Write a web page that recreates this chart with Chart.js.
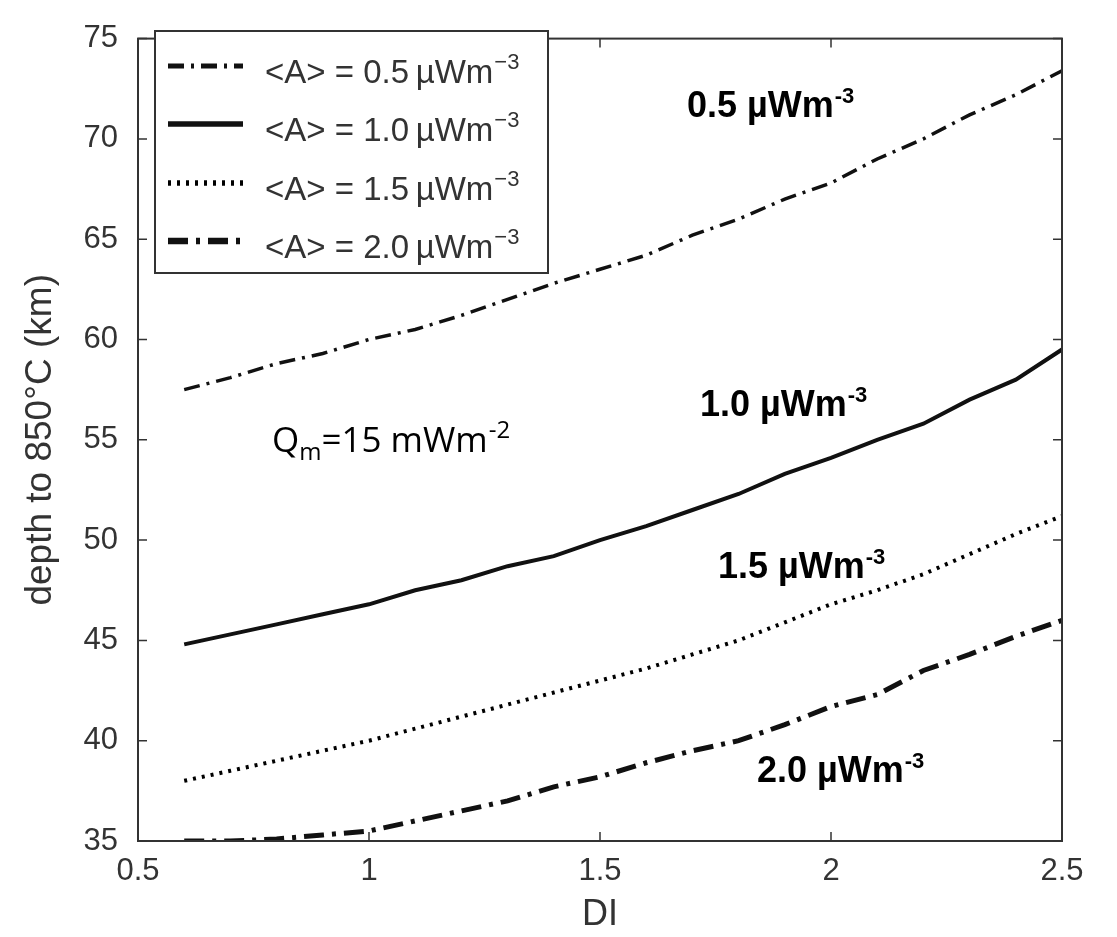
<!DOCTYPE html>
<html>
<head>
<meta charset="utf-8">
<script src="https://cdn.jsdelivr.net/npm/chart.js@4.4.0/dist/chart.umd.min.js"></script>
<style>
  html, body { margin: 0; padding: 0; background: #fff; }
  #wrap { width: 1117px; height: 937px; }
</style>
</head>
<body>
<div id="wrap"><canvas id="depthChart" width="1117" height="937"></canvas></div>
<script>
// DI values (x axis)
var diValues = [0.6, 0.7, 0.8, 0.9, 1.0, 1.1, 1.2, 1.3, 1.4, 1.5, 1.6, 1.7, 1.8, 1.9, 2.0, 2.1, 2.2, 2.3, 2.4, 2.5];
// depth to 850 C (km) for each heat production <A>
var depthA05 = [57.5, 58.1, 58.8, 59.3, 60.0, 60.5, 61.2, 62.0, 62.8, 63.5, 64.2, 65.2, 66.0, 67.0, 67.8, 69.0, 70.0, 71.2, 72.2, 73.4];
var depthA10 = [44.8, 45.3, 45.8, 46.3, 46.8, 47.5, 48.0, 48.7, 49.2, 50.0, 50.7, 51.5, 52.3, 53.3, 54.1, 55.0, 55.8, 57.0, 58.0, 59.5];
var depthA15 = [38.0, 38.5, 39.0, 39.5, 40.0, 40.6, 41.2, 41.8, 42.4, 43.0, 43.6, 44.3, 45.0, 45.9, 46.8, 47.5, 48.3, 49.3, 50.3, 51.2];
var depthA20 = [35.0, 35.0, 35.1, 35.3, 35.5, 36.0, 36.5, 37.0, 37.7, 38.2, 38.9, 39.5, 40.0, 40.8, 41.7, 42.3, 43.5, 44.3, 45.2, 46.0];
var seriesLabels = ['0.5', '1.0', '1.5', '2.0'];
var xTicks = [0.5, 1, 1.5, 2, 2.5];
var yTicks = [35, 40, 45, 50, 55, 60, 65, 70, 75];

var AREA_LEFT = 138, AREA_RIGHT = 1062, AREA_TOP = 18, AREA_BOTTOM = 841;
var SANS = '"Liberation Sans", Arial, sans-serif';

function toPoints(ys) {
    return diValues.map(function (x, i) { return { x: x, y: ys[i] }; });
}

// text with a raised exponent, e.g. "µWm" + "-3"
function drawSup(ctx, x, y, base, sup, font, supFont, rise) {
    ctx.font = font;
    ctx.fillText(base, x, y);
    var w = ctx.measureText(base).width;
    ctx.font = supFont;
    ctx.fillText(sup, x + w + 1, y - rise);
}

var framePlugin = {
    id: 'frame',
    afterDatasetsDraw: function (chart) {
        var ctx = chart.ctx;
        var a = chart.chartArea;
        var xs = chart.scales.x, ys = chart.scales.y;
        ctx.save();
        ctx.strokeStyle = '#333';
        ctx.lineWidth = 2;
        ctx.strokeRect(a.left, a.top, a.right - a.left, a.bottom - a.top);
        // inward ticks on all four sides
        ctx.lineWidth = 1.5;
        ctx.beginPath();
        xTicks.forEach(function (v) {
            var px = xs.getPixelForValue(v);
            ctx.moveTo(px, a.bottom); ctx.lineTo(px, a.bottom - 9);
            ctx.moveTo(px, a.top); ctx.lineTo(px, a.top + 9);
        });
        yTicks.forEach(function (v) {
            var py = ys.getPixelForValue(v);
            ctx.moveTo(a.left, py); ctx.lineTo(a.left + 9, py);
            ctx.moveTo(a.right, py); ctx.lineTo(a.right - 9, py);
        });
        ctx.stroke();

        // legend box
        var lx = 155, ly = 31, lw = 393, lh = 242;
        ctx.fillStyle = '#fff';
        ctx.fillRect(lx, ly, lw, lh);
        ctx.strokeStyle = '#333';
        ctx.lineWidth = 2;
        ctx.strokeRect(lx, ly, lw, lh);
        var rows = [66, 124, 183, 241];
        chart.data.datasets.forEach(function (ds, i) {
            var ry = rows[i];
            ctx.save();
            ctx.strokeStyle = ds.borderColor;
            ctx.lineWidth = ds.borderWidth + 1.5;
            ctx.setLineDash(ds.borderDash || []);
            ctx.beginPath();
            ctx.moveTo(168, ry);
            ctx.lineTo(243, ry);
            ctx.stroke();
            ctx.restore();
            ctx.fillStyle = '#333';
            ctx.textBaseline = 'alphabetic';
            drawSup(ctx, 265, ry + 17, '<A> = ' + seriesLabels[i] + '\u2009\u00b5Wm', '\u22123',
                '33px ' + SANS, '22px ' + SANS, 14);
        });

        // curve labels
        ctx.fillStyle = '#000';
        var bold = 'bold 36px ' + SANS;
        var boldSup = 'bold 22px ' + SANS;
        var labelPos = [[687, 117], [700, 416], [718, 578], [757, 782]];
        labelPos.forEach(function (p, i) {
            drawSup(ctx, p[0], p[1], seriesLabels[i] + ' \u00b5Wm', '-3', bold, boldSup, 14);
        });

        // Qm annotation
        var qx = 272, qy = 452;
        ctx.font = '35px "Open Sans", sans-serif';
        ctx.fillText('Q', qx, qy);
        qx += ctx.measureText('Q').width;
        ctx.font = '24px "Open Sans", sans-serif';
        ctx.fillText('m', qx, qy + 8);
        qx += ctx.measureText('m').width;
        drawSup(ctx, qx, qy, '=15 mWm', '-2', '35px "Open Sans", sans-serif', '24px "Open Sans", sans-serif', 14);
        ctx.restore();
    }
};

var ctx = document.getElementById('depthChart').getContext('2d');
new Chart(ctx, {
    type: 'line',
    data: {
        datasets: [
            {
                label: '<A> = 0.5 µWm-3',
                data: toPoints(depthA05),
                borderColor: '#111',
                borderWidth: 3.5,
                borderDash: [16, 7, 3, 7],
                pointRadius: 0
            },
            {
                label: '<A> = 1.0 µWm-3',
                data: toPoints(depthA10),
                borderColor: '#111',
                borderWidth: 4,
                pointRadius: 0
            },
            {
                label: '<A> = 1.5 µWm-3',
                data: toPoints(depthA15),
                borderColor: '#000',
                borderWidth: 4,
                borderDash: [3, 6],
                pointRadius: 0
            },
            {
                label: '<A> = 2.0 µWm-3',
                data: toPoints(depthA20),
                borderColor: '#111',
                borderWidth: 5,
                borderDash: [20, 8, 4, 8],
                pointRadius: 0
            }
        ]
    },
    options: {
        responsive: false,
        animation: false,
        layout: {
            padding: { left: 0, top: AREA_TOP, right: 1117 - AREA_RIGHT, bottom: 0 }
        },
        plugins: {
            legend: { display: false },
            tooltip: { enabled: false }
        },
        scales: {
            x: {
                type: 'linear',
                min: 0.5,
                max: 2.5,
                afterFit: function (scale) { scale.height = 937 - AREA_BOTTOM; },
                afterBuildTicks: function (scale) {
                    scale.ticks = xTicks.map(function (v) { return { value: v }; });
                },
                grid: { display: false, drawTicks: false },
                border: { display: false },
                ticks: {
                    color: '#333',
                    padding: 12,
                    maxRotation: 0,
                    font: { family: SANS, size: 31 },
                    callback: function (v) { return String(v); }
                },
                title: {
                    display: true,
                    text: 'DI',
                    color: '#333',
                    padding: { top: 0, bottom: 0 },
                    font: { family: SANS, size: 36 }
                }
            },
            y: {
                type: 'linear',
                min: 35,
                max: 75,
                afterFit: function (scale) { scale.width = AREA_LEFT; },
                afterBuildTicks: function (scale) {
                    scale.ticks = yTicks.map(function (v) { return { value: v }; });
                },
                grid: { display: false, drawTicks: false },
                border: { display: false },
                ticks: {
                    color: '#333',
                    padding: 20,
                    font: { family: SANS, size: 31 }
                },
                title: {
                    display: true,
                    text: 'depth to 850\u00b0C (km)',
                    color: '#333',
                    padding: { top: 19, bottom: 0 },
                    font: { family: SANS, size: 37 }
                }
            }
        }
    },
    plugins: [framePlugin]
});
</script>
</body>
</html>
